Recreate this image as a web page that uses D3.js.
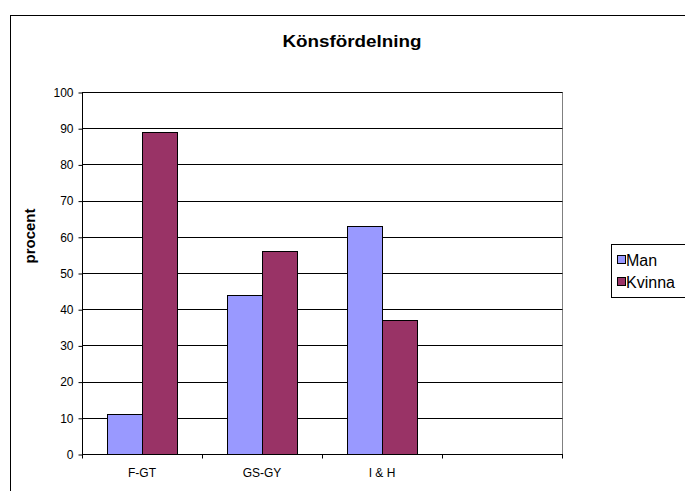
<!DOCTYPE html>
<html><head><meta charset="utf-8">
<script src="https://cdn.jsdelivr.net/npm/d3@7"></script>
<style>body{margin:0;background:#fff}svg{display:block}text{font-family:"Liberation Sans",Arial,sans-serif}</style>
</head><body>
<svg id="c" width="685" height="491"></svg>
<script>
const categories = ["F-GT", "GS-GY", "I & H", ""];
const seriesNames = ["Man", "Kvinna"];
const manValues = [11, 44, 63, null];
const kvinnaValues = [89, 56, 37, null];
const yTicks = [0, 10, 20, 30, 40, 50, 60, 70, 80, 90, 100];
const colors = ["#9999FF", "#993366"];
const title = "Könsfördelning";
const yTitle = "procent";

const svg = d3.select("#c");
const L = 82, R = 562, T = 92, B = 454;

// chart area border
svg.append("rect").attr("x", 10.5).attr("y", 15.5).attr("width", 1000).attr("height", 1000)
  .attr("fill", "none").attr("stroke", "#000");

const x0 = d3.scaleBand().domain(categories.map((c, i) => i)).range([L, R]).padding(0);
const x1 = d3.scaleBand().domain(seriesNames).range([0, x0.bandwidth()]).paddingInner(0).paddingOuter(0.714);
const y = d3.scaleLinear().domain([0, 100]).range([B, T]);

// plot area border (gray)
svg.append("rect").attr("x", L + 0.5).attr("y", T + 0.5).attr("width", R - L).attr("height", B - T)
  .attr("fill", "none").attr("stroke", "#808080");

// gridlines
svg.append("g").selectAll("line").data(yTicks.filter(d => d > 0)).join("line")
  .attr("x1", L).attr("x2", R + 0.5).attr("y1", d => Math.round(y(d)) + 0.5).attr("y2", d => Math.round(y(d)) + 0.5)
  .attr("stroke", "#000");

// bars
const data = [manValues, kvinnaValues];
data.forEach((vals, si) => {
  svg.append("g").selectAll("rect").data(vals.map((v, i) => ({v, i})).filter(d => d.v != null)).join("rect")
    .attr("x", d => Math.round(x0(d.i) + x1(seriesNames[si])) + 0.5)
    .attr("y", d => Math.round(y(d.v)) + 0.5)
    .attr("width", Math.round(x1.bandwidth()))
    .attr("height", d => Math.round(y(0)) - Math.round(y(d.v)))
    .attr("fill", colors[si]).attr("stroke", "#000");
});

// y axis
const yAxis = d3.axisLeft(y).tickValues(yTicks).tickSize(4).tickPadding(5);
const gy = svg.append("g").attr("transform", `translate(${L + 0.5},0.5)`).call(yAxis);
gy.select(".domain").attr("stroke", "#000").attr("d", `M0,${T}V${B}`);
gy.selectAll("text").attr("font-size", 12).attr("font-family", "Liberation Sans, Arial").attr("fill", "#000");
gy.selectAll(".tick line").attr("stroke", "#000");

// x axis
const gx = svg.append("g").attr("transform", `translate(0,${B + 0.5})`);
gx.append("line").attr("x1", L).attr("x2", R + 1).attr("stroke", "#000");
gx.selectAll("line.t").data(d3.range(categories.length + 1)).join("line").attr("class", "t")
  .attr("x1", i => Math.round(L + i * x0.step()) + 0.5).attr("x2", i => Math.round(L + i * x0.step()) + 0.5)
  .attr("y1", 0).attr("y2", 4).attr("stroke", "#000");
gx.selectAll("text").data(categories).join("text")
  .attr("x", (d, i) => x0(i) + x0.bandwidth() / 2).attr("y", 22.5)
  .attr("text-anchor", "middle").attr("font-size", 12).text(d => d);

// title
svg.append("text").attr("x", 352).attr("y", 47).attr("text-anchor", "middle")
  .attr("font-size", 16).attr("font-weight", "bold").attr("textLength", 139).attr("lengthAdjust", "spacingAndGlyphs")
  .text(title);

// y title
svg.append("text").attr("transform", "translate(35,236) rotate(-90)").attr("text-anchor", "middle")
  .attr("font-size", 15).attr("font-weight", "bold").text(yTitle);

// legend
const lg = svg.append("g");
lg.append("rect").attr("x", 611.5).attr("y", 244.5).attr("width", 200).attr("height", 53)
  .attr("fill", "#fff").attr("stroke", "#000");
seriesNames.forEach((s, i) => {
  const cy = 260 + i * 22;
  lg.append("rect").attr("x", 617.5).attr("y", cy - 4.5).attr("width", 8).attr("height", 8)
    .attr("fill", colors[i]).attr("stroke", "#000");
  lg.append("text").attr("x", 626).attr("y", cy + 5.5).attr("font-size", 16).text(s);
});
</script>
</body></html>
